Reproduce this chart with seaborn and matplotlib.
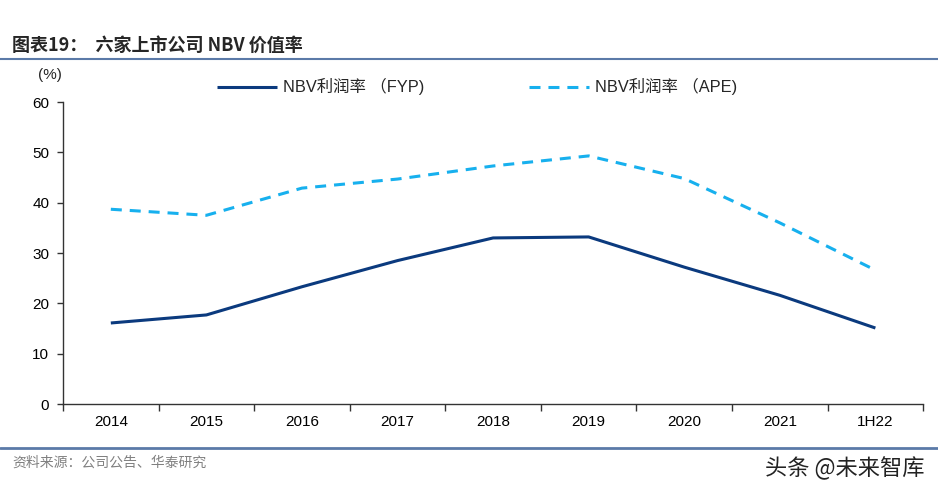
import numpy as np
import pandas as pd
import seaborn as sns
import matplotlib.pyplot as plt
from matplotlib.ticker import FixedLocator

sns.set_theme(style='white')
plt.rcParams['font.family'] = ['Liberation Sans', 'Noto Sans CJK SC', 'DejaVu Sans']

# Data
periods = ['2014', '2015', '2016', '2017', '2018', '2019', '2020', '2021', '1H22']
fyp = [16.1, 17.7, 23.3, 28.5, 33.0, 33.2, 27.2, 21.6, 15.1]
ape = [38.7, 37.5, 42.9, 44.7, 47.3, 49.3, 44.8, 36.0, 26.6]
series_names = ['NBV利润率 （FYP)', 'NBV利润率 （APE)']
yticks = [0, 10, 20, 30, 40, 50, 60]

df = pd.DataFrame({'period': periods * 2,
                   'value': fyp + ape,
                   'series': [series_names[0]] * len(periods) + [series_names[1]] * len(periods)})

fig = plt.figure(figsize=(9.38, 4.86), dpi=100)
ax = fig.add_axes([0.0672, 0.1687, 0.917, 0.6213])

sns.lineplot(data=df, x='period', y='value', hue='series', style='series',
             palette=['#0b3a7e', '#17b0ee'], dashes=[(1, 0), (3.6, 2.6)],
             linewidth=2.2, sort=False, ax=ax, legend=True)

ax.set_xlim(-0.5, len(periods) - 0.5)
ax.set_ylim(0, 60)
ax.set_yticks(yticks)
ax.set_xlabel('')
ax.set_ylabel('')
for s in ['top', 'right']:
    ax.spines[s].set_visible(False)
for s in ['left', 'bottom']:
    ax.spines[s].set_color('#333333')
    ax.spines[s].set_linewidth(1.0)

ax.tick_params(axis='y', direction='out', length=4, width=1, color='#333333',
               labelsize=11, pad=6, left=True)
ax.tick_params(axis='x', which='major', length=0, labelsize=11, pad=8)
ax.xaxis.set_minor_locator(FixedLocator(np.arange(-0.5, len(periods), 1.0)))
ax.tick_params(axis='x', which='minor', direction='out', length=5, width=1,
               color='#333333', bottom=True)
for lab in ax.get_xticklabels() + ax.get_yticklabels():
    lab.set_color('black')

handles, labels = ax.get_legend_handles_labels()
ax.legend(handles, labels, ncol=2, frameon=False, fontsize=11.8,
          handlelength=3.66, columnspacing=6.4, handletextpad=0.37,
          loc='center left', bbox_to_anchor=(0.2155, 0.8215),
          bbox_transform=fig.transFigure)

fig.text(0.041, 0.845, '(%)', fontsize=11, ha='left', va='center')

# header and footer
fig.text(0.013, 0.907, '图表19：  六家上市公司 NBV 价值率', fontsize=13, fontweight='bold',
         family=['Noto Sans CJK SC', 'DejaVu Sans'], ha='left', va='center')
fig.add_artist(plt.Line2D([0.0, 1.0], [0.879, 0.879], color='#5b7aa8', linewidth=1.5,
                          transform=fig.transFigure))
fig.add_artist(plt.Line2D([0.0, 1.0], [0.078, 0.078], color='#5b7aa8', linewidth=2,
                          transform=fig.transFigure))
fig.text(0.013, 0.047, '资料来源：公司公告、华泰研究', fontsize=10, color='#808080',
         family=['Noto Sans CJK SC', 'DejaVu Sans'], ha='left', va='center')
fig.text(0.986, 0.037, '头条 @未来智库', fontsize=16, color='#222222',
         family=['Noto Sans CJK SC', 'DejaVu Sans'], ha='right', va='center')

fig.savefig('out.png', dpi=100)
